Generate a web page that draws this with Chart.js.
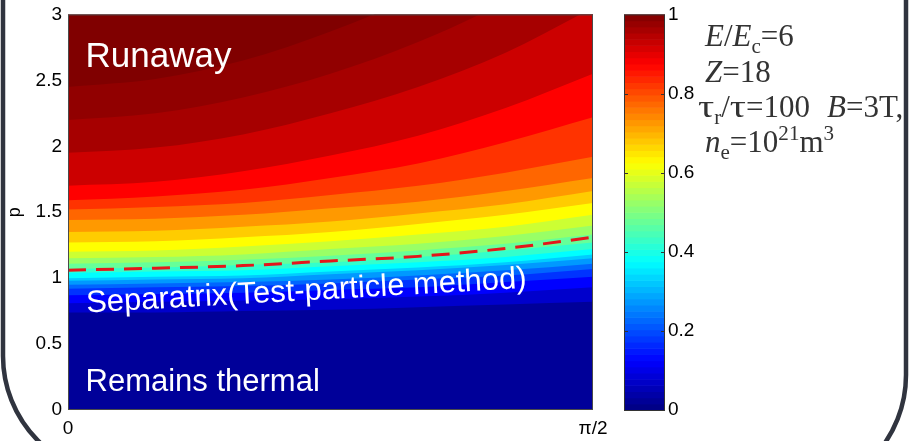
<!DOCTYPE html>
<html>
<head>
<meta charset="utf-8">
<script src="https://cdn.jsdelivr.net/npm/chart.js@4.4.1/dist/chart.umd.min.js"></script>
<style>
  html, body { margin: 0; padding: 0; background: #fff; }
  #wrap { position: relative; width: 909px; height: 441px; overflow: hidden; }
</style>
</head>
<body>
<div id="wrap"><canvas id="chart" width="909" height="441"></canvas></div>
<script>
// Pitch-angle columns in degrees (90 = pi/2)
const THETA = [0, 15, 30, 45, 60, 75, 90];
const X_TICKS = [0, 90];
const X_TICK_LABELS = ['0', 'π/2'];
const CB_TICKS = [0, 0.2, 0.4, 0.6, 0.8, 1];

// Separatrix from the test-particle method (p at each column)
const SEPARATRIX_P = [1.06, 1.075, 1.095, 1.13, 1.165, 1.225, 1.31];

// Runaway-probability levels bounding the colour bands
const LEVELS = [0.05, 0.10, 0.15, 0.20, 0.25, 0.30, 0.35, 0.40, 0.45, 0.50,
                0.55, 0.60, 0.65, 0.70, 0.75, 0.80, 0.85, 0.90, 0.95, 0.975, 0.99];
const TOP_LEVEL = 1.0;

// p at which each level is reached, one array per column
const P_0  = [0.74, 0.81, 0.87, 0.92, 0.95, 0.98, 1.00, 1.04, 1.07, 1.11, 1.15, 1.20, 1.27, 1.35, 1.44, 1.52, 1.59, 1.70, 1.95, 2.20, 2.45];
const P_15 = [0.74, 0.82, 0.88, 0.93, 0.96, 0.99, 1.01, 1.05, 1.08, 1.12, 1.16, 1.21, 1.28, 1.36, 1.45, 1.54, 1.62, 1.73, 1.99, 2.25, 2.51];
const P_30 = [0.75, 0.83, 0.89, 0.94, 0.97, 1.00, 1.02, 1.06, 1.10, 1.14, 1.18, 1.24, 1.31, 1.39, 1.48, 1.57, 1.67, 1.81, 2.09, 2.37, 2.65];
const P_45 = [0.76, 0.84, 0.91, 0.96, 0.99, 1.03, 1.05, 1.09, 1.12, 1.17, 1.22, 1.28, 1.35, 1.43, 1.53, 1.63, 1.76, 1.93, 2.25, 2.55, 2.87];
const P_60 = [0.78, 0.86, 0.93, 0.99, 1.02, 1.06, 1.08, 1.12, 1.16, 1.21, 1.26, 1.33, 1.41, 1.49, 1.58, 1.70, 1.87, 2.08, 2.45, 2.79, 3.15];
const P_75 = [0.80, 0.89, 0.97, 1.02, 1.06, 1.10, 1.12, 1.16, 1.21, 1.26, 1.32, 1.39, 1.48, 1.56, 1.66, 1.80, 2.03, 2.29, 2.71, 3.10, 3.52];
const P_90 = [0.82, 0.93, 1.01, 1.07, 1.11, 1.15, 1.18, 1.22, 1.27, 1.33, 1.40, 1.48, 1.57, 1.66, 1.76, 1.92, 2.22, 2.55, 3.05, 3.50, 4.00];
const COLUMNS = [P_0, P_15, P_30, P_45, P_60, P_75, P_90];

const SANS = '"Liberation Sans", Arial, sans-serif';
const SERIF = '"Liberation Serif", "Times New Roman", serif';

// MATLAB-style jet colormap
function jet(v) {
  const c = t => Math.round(255 * Math.max(0, Math.min(1, t)));
  const r = c(Math.min(4 * v - 1.5, -4 * v + 4.5));
  const g = c(Math.min(4 * v - 0.5, -4 * v + 3.5));
  const b = c(Math.min(4 * v + 0.5, -4 * v + 2.5));
  return `rgb(${r},${g},${b})`;
}

// one filled contour per level; each fills down to p = 0, higher levels underneath
const contourSets = LEVELS.map((lev, k) => {
  const below = k === 0 ? 0 : LEVELS[k - 1];
  return {
    data: THETA.map((t, j) => ({ x: t, y: COLUMNS[j][k] })),
    backgroundColor: jet((below + lev) / 2),
    borderColor: 'rgba(0,0,0,0)',
    borderWidth: 0,
    pointRadius: 0,
    cubicInterpolationMode: 'monotone',
    fill: 'start'
  };
});

const separatrixSet = {
  data: THETA.map((t, j) => ({ x: t, y: SEPARATRIX_P[j] })),
  borderColor: '#e3161b',
  borderWidth: 3,
  borderDash: [18, 10],
  pointRadius: 0,
  cubicInterpolationMode: 'monotone',
  fill: false
};

// draws a line of mixed italic / sub / superscript runs, sx stretches a run sideways
function drawRuns(ctx, x, y, runs, size) {
  runs.forEach(r => {
    const small = r.sub || r.sup;
    const s = small ? size * 0.68 : size;
    const sx = r.sx || 1;
    ctx.font = `${r.it ? 'italic ' : ''}${s}px ${SERIF}`;
    const dy = r.sub ? size * 0.22 : r.sup ? -size * 0.38 : 0;
    ctx.save();
    ctx.translate(x, y + dy);
    ctx.scale(sx, 1);
    ctx.fillText(r.t, 0, 0);
    ctx.restore();
    x += ctx.measureText(r.t).width * sx;
  });
}

const NOTES = [
  [{ t: 'E', it: true }, { t: '/' }, { t: 'E', it: true }, { t: 'c', sub: true }, { t: '=6' }],
  [{ t: 'Z', it: true }, { t: '=18' }],
  [{ t: 'τ', sx: 1.3 }, { t: 'r', sub: true }, { t: '/' }, { t: 'τ', sx: 1.3 }, { t: '=100' },
   { t: ' ', sx: 2.2 }, { t: 'B', it: true }, { t: '=3T,' }],
  [{ t: 'n', it: true }, { t: 'e', sub: true }, { t: '=10' }, { t: '21', sup: true }, { t: 'm' }, { t: '3', sup: true }]
];

const decor = {
  id: 'decor',
  beforeDatasetsDraw(chart) {
    const { ctx, chartArea: a } = chart;
    ctx.save();
    ctx.fillStyle = jet(TOP_LEVEL);
    ctx.fillRect(a.left, a.top, a.right - a.left, a.bottom - a.top);
    ctx.restore();
  },
  afterDatasetsDraw(chart) {
    const { ctx, chartArea: a, scales: { x, y } } = chart;
    ctx.save();
    ctx.strokeStyle = '#4a4a4a';
    ctx.lineWidth = 1;
    ctx.strokeRect(a.left + 0.5, a.top + 0.5, a.right - a.left - 1, a.bottom - a.top - 1);

    ctx.fillStyle = '#fff';
    ctx.textBaseline = 'alphabetic';
    ctx.font = `35px ${SANS}`;
    ctx.fillText('Runaway', x.getPixelForValue(3), y.getPixelForValue(2.6));
    ctx.font = `31px ${SANS}`;
    ctx.fillText('Remains thermal', x.getPixelForValue(3), y.getPixelForValue(0.145));
    ctx.save();
    ctx.translate(x.getPixelForValue(3.2), y.getPixelForValue(0.74));
    ctx.rotate(-3.2 * Math.PI / 180);
    ctx.fillText('Separatrix(Test-particle method)', 0, 0);
    ctx.restore();
    ctx.restore();
  },
  afterDraw(chart) {
    const { ctx } = chart;
    const cb = chart.scales.cb;
    const left = cb.left + 31, w = 41;
    const top = cb.getPixelForValue(1), bot = cb.getPixelForValue(0);
    ctx.save();
    // colour bar, 64 steps
    for (let i = 0; i < 64; i++) {
      const y0 = cb.getPixelForValue(i / 64), y1 = cb.getPixelForValue((i + 1) / 64);
      ctx.fillStyle = jet((i + 0.5) / 64);
      ctx.fillRect(left, y1, w, y0 - y1 + 0.6);
    }
    ctx.strokeStyle = '#333';
    ctx.lineWidth = 1;
    ctx.strokeRect(left + 0.5, top + 0.5, w - 1, bot - top);
    CB_TICKS.slice(1, -1).forEach(v => {
      const py = Math.round(cb.getPixelForValue(v)) + 0.5;
      ctx.beginPath();
      ctx.moveTo(left, py); ctx.lineTo(left + 4, py);
      ctx.moveTo(left + w - 4, py); ctx.lineTo(left + w, py);
      ctx.stroke();
    });

    // parameter notes
    ctx.fillStyle = '#333';
    const baselines = [46, 82, 117, 152];
    const xs = [705, 705, 698, 705];
    NOTES.forEach((runs, i) => drawRuns(ctx, xs[i], baselines[i], runs, 31));

    // rounded slide frame
    ctx.strokeStyle = '#30343f';
    ctx.lineWidth = 4.5;
    ctx.beginPath();
    ctx.moveTo(3, -5);
    ctx.lineTo(3, 356);
    ctx.arc(123, 356, 120, Math.PI, Math.PI / 2, true);
    ctx.stroke();
    ctx.beginPath();
    ctx.moveTo(906, -5);
    ctx.lineTo(906, 375);
    ctx.arc(786, 375, 120, 0, Math.PI / 2, false);
    ctx.stroke();
    ctx.restore();
  }
};

Chart.defaults.font.family = SANS;
Chart.defaults.color = '#000';

// tick marks are kept invisible; their length only sets the label offset
const hiddenTicks = len => ({
  display: true, drawOnChartArea: false, drawTicks: true,
  tickLength: len, color: 'rgba(0,0,0,0)'
});
const plainNumber = v => String(+Number(v).toFixed(2));

new Chart(document.getElementById('chart'), {
  type: 'line',
  data: { datasets: [separatrixSet, ...contourSets] },
  options: {
    responsive: false,
    animation: false,
    events: [],
    layout: { padding: { top: 12, left: 0, right: 0, bottom: 0 } },
    plugins: { legend: { display: false }, tooltip: { enabled: false } },
    scales: {
      x: {
        type: 'linear', min: 0, max: 90,
        grid: hiddenTicks(7),
        border: { display: false },
        afterBuildTicks: s => { s.ticks = X_TICKS.map(v => ({ value: v })); },
        afterFit: s => { s.height = 31; },
        ticks: {
          padding: 0, maxRotation: 0, autoSkip: false,
          font: { size: 19 },
          callback: v => X_TICK_LABELS[X_TICKS.indexOf(v)]
        }
      },
      y: {
        type: 'linear', min: 0, max: 3,
        grid: hiddenTicks(6),
        border: { display: false },
        afterFit: s => { s.width = 68; },
        ticks: { stepSize: 0.5, padding: 0, font: { size: 19 }, callback: plainNumber },
        title: { display: true, text: 'p', font: { size: 18 }, padding: { top: 4, bottom: 0 } }
      },
      cb: {
        type: 'linear', position: 'right', min: 0, max: 1,
        grid: hiddenTicks(72),
        border: { display: false },
        afterFit: s => { s.width = 316; },
        ticks: { stepSize: 0.2, padding: 3, font: { size: 19 }, callback: plainNumber }
      }
    }
  },
  plugins: [decor]
});
</script>
</body>
</html>
